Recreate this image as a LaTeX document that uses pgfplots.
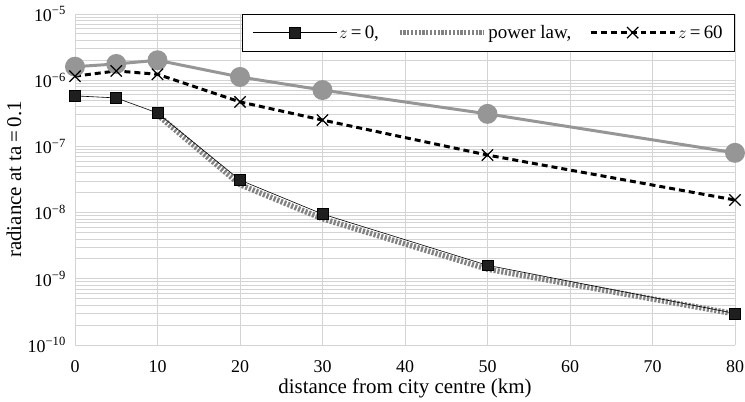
\documentclass[border=0pt]{standalone}
\usepackage{fontspec}
\setmainfont{Liberation Serif}
\usepackage{pgfplots}
\pgfplotsset{compat=1.18}
\definecolor{gridc}{RGB}{212,212,212}
\definecolor{grayline}{RGB}{150,150,150}
\definecolor{plgray}{RGB}{130,130,130}
\begin{document}
\begin{tikzpicture}
\begin{axis}[
  scale only axis,
  width=660bp, height=331bp,
  ymode=log,
  xmin=0, xmax=80, ymin=1e-10, ymax=1e-5,
  xtick={0,10,...,80},
  ytick={1e-10,1e-9,1e-8,1e-7,1e-6,1e-5},
  yticklabels={10\textsuperscript{−10},10\textsuperscript{−9},10\textsuperscript{−8},10\textsuperscript{−7},10\textsuperscript{−6},10\textsuperscript{−5}},
  /pgf/number format/assume math mode=true,
  tick label style={font=\fontsize{18}{20}\selectfont},
  xticklabel style={anchor=base, inner sep=0pt, yshift=-27bp},
  yticklabel style={anchor=east, inner sep=0pt, xshift=-9bp},
  label style={font=\fontsize{21}{23}\selectfont},
  xlabel={distance from city centre (km)},
  ylabel={radiance at ta\,=\,0.1},
  xlabel style={at={(rel axis cs:0.5,0)}, anchor=center, yshift=-43bp},
  ylabel style={at={(axis description cs:-0.0925,0.5)}, anchor=center},
  xmajorgrids, ymajorgrids, yminorgrids,
  major grid style={gridc, line width=0.9pt},
  minor grid style={gridc, line width=0.9pt},
  axis line style={draw=none},
  major tick length=0pt, minor tick length=0pt,
  tick style={draw=none},
  legend columns=3,
  legend style={at={(1,1)}, anchor=north east, draw=black, line width=0.7pt, fill=white,
    font=\fontsize{19}{21}\selectfont, inner xsep=10pt, inner ysep=9pt,
    /tikz/every even column/.append style={column sep=16pt}},
  legend cell align=left,
  legend image code/.code={\draw[#1, mark repeat=2, mark phase=2] plot coordinates {(0bp,0bp) (42bp,0bp) (84bp,0bp)};},
]
\addplot[plgray, line width=5.5bp, dash pattern=on 2.2bp off 1.6bp, forget plot]
  coordinates {(10,3.0e-7) (20,2.65e-8) (30,8.1e-9) (50,1.4e-9) (80,2.95e-10)};
\addplot[black, line width=0.6pt, mark=square*, mark size=5.5pt, mark options={solid, fill=black!88}]
  coordinates {(0,5.8e-7) (5,5.4e-7) (10,3.2e-7) (20,3.1e-8) (30,9.5e-9) (50,1.6e-9) (80,3.0e-10)};
\addlegendentry{$z$\,=\,0,}
\addlegendimage{plgray, line width=5.5bp, dash pattern=on 2.2bp off 1.6bp}
\addlegendentry{power law,}
\addplot[grayline, line width=3pt, mark=*, mark size=8.5pt, mark options={solid, fill=grayline}, forget plot]
  coordinates {(0,1.6e-6) (5,1.76e-6) (10,2.0e-6) (20,1.12e-6) (30,7.1e-7) (50,3.1e-7) (80,8.0e-8)};
\addplot[black, line width=3pt, dash pattern=on 6pt off 4pt, mark=x, mark size=8pt, mark options={solid, line width=1.3pt}]
  coordinates {(0,1.15e-6) (5,1.38e-6) (10,1.23e-6) (20,4.7e-7) (30,2.5e-7) (50,7.4e-8) (80,1.55e-8)};
\addlegendentry{$z$\,=\,60}
\coordinate (O) at (rel axis cs:0,0);
\coordinate (T) at (rel axis cs:1,1);
\end{axis}
\pgfresetboundingbox
\path ([xshift=-75bp,yshift=-56bp]O) rectangle ([xshift=10bp,yshift=14bp]T);
\end{tikzpicture}
\end{document}
